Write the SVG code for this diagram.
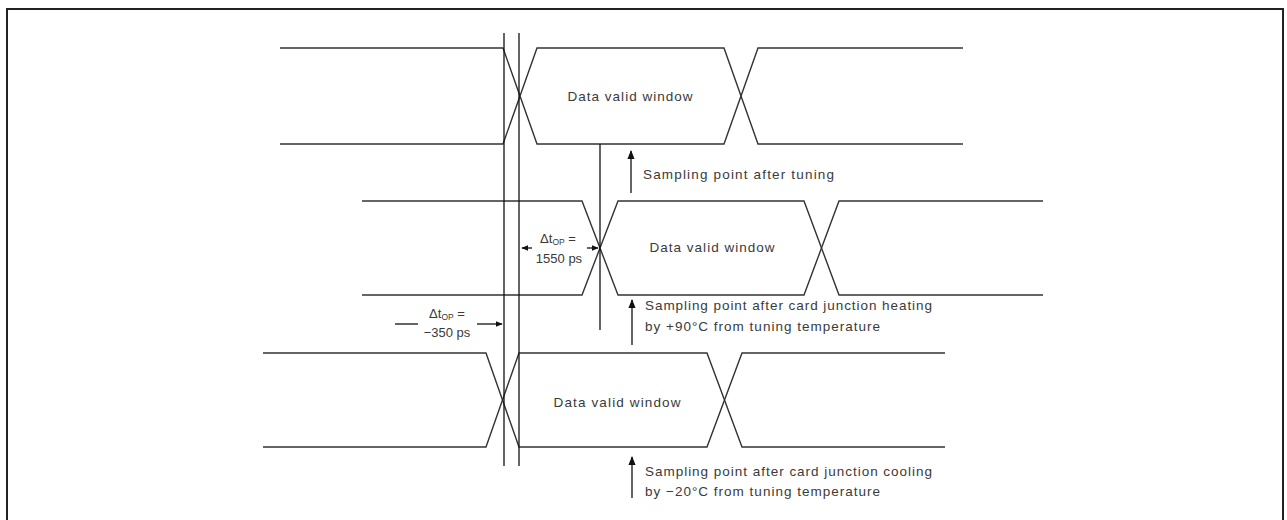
<svg xmlns="http://www.w3.org/2000/svg" width="1287" height="520" viewBox="0 0 1287 520">
<defs>
<marker id="ah" viewBox="0 0 10 10" refX="9" refY="5" markerWidth="7" markerHeight="7" markerUnits="userSpaceOnUse" orient="auto">
<path d="M0,1 L10,5 L0,9 Z" fill="#111"/>
</marker>
<marker id="ahb" viewBox="0 0 10 10" refX="9" refY="5" markerWidth="9" markerHeight="9" markerUnits="userSpaceOnUse" orient="auto">
<path d="M0,1 L10,5 L0,9 Z" fill="#111"/>
</marker>
</defs>
<style>
.sig{fill:none;stroke:#333;stroke-width:1.4}
.ln{fill:none;stroke:#111;stroke-width:1.3}
.t{font-family:"Liberation Sans",Arial,sans-serif;font-size:13.5px;fill:#3a3a3a}
.d{font-size:13px}
.s{font-size:8.5px}
</style>
<rect width="1287" height="520" fill="#fff"/>
<path d="M7,522 V9 H1283 V522" fill="none" stroke="#222" stroke-width="2"/>

<g id="signal-top">
<path class="sig" d="M280,48 H503 L537,144 H724 L758,48 H963"/>
<path class="sig" d="M280,144 H503 L537,48 H724 L758,144 H963"/>
<text class="t" x="630" y="101" text-anchor="middle" textLength="125" lengthAdjust="spacing">Data valid window</text>
</g>

<g id="signal-heating">
<path class="sig" d="M362,201 H582 L618,295 H804 L839,201 H1043"/>
<path class="sig" d="M362,295 H582 L618,201 H804 L839,295 H1043"/>
<text class="t" x="712" y="252" text-anchor="middle" textLength="125" lengthAdjust="spacing">Data valid window</text>
</g>

<g id="signal-cooling">
<path class="sig" d="M263,353 H486 L519,447 H707 L742,353 H945"/>
<path class="sig" d="M263,447 H486 L519,353 H707 L742,447 H945"/>
<text class="t" x="617" y="407" text-anchor="middle" textLength="127" lengthAdjust="spacing">Data valid window</text>
</g>

<g id="connectors">
<line class="ln" x1="504" y1="33" x2="504" y2="466"/>
<line class="ln" x1="519" y1="33" x2="519" y2="466"/>
<line class="ln" x1="600" y1="144" x2="600" y2="330"/>
<line class="ln" x1="631" y1="193" x2="631" y2="151" marker-end="url(#ahb)"/>
<line class="ln" x1="632" y1="345" x2="632" y2="300" marker-end="url(#ahb)"/>
<line class="ln" x1="632" y1="498" x2="632" y2="457" marker-end="url(#ahb)"/>
<line class="ln" x1="532" y1="248" x2="522" y2="248" marker-end="url(#ah)"/>
<line class="ln" x1="587" y1="248" x2="598" y2="248" marker-end="url(#ah)"/>
<line class="ln" x1="395" y1="324" x2="418" y2="324"/>
<line class="ln" x1="477" y1="324" x2="502" y2="324" marker-end="url(#ah)"/>
</g>

<g id="label-tuning">
<text class="t" x="643" y="179" textLength="191" lengthAdjust="spacing">Sampling point after tuning</text>
</g>
<g id="label-heating">
<text class="t" x="645" y="310" textLength="287" lengthAdjust="spacing">Sampling point after card junction heating</text>
<text class="t" x="645" y="331" textLength="235" lengthAdjust="spacing">by +90°C from tuning temperature</text>
</g>
<g id="label-cooling">
<text class="t" x="645" y="476" textLength="287" lengthAdjust="spacing">Sampling point after card junction cooling</text>
<text class="t" x="645" y="496" textLength="235" lengthAdjust="spacing">by −20°C from tuning temperature</text>
</g>
<g id="label-dt-1550">
<text class="t d" x="558" y="243" text-anchor="middle">Δt<tspan class="s" dy="2">OP</tspan><tspan dy="-2"> =</tspan></text>
<text class="t d" x="559" y="263" text-anchor="middle">1550 ps</text>
</g>
<g id="label-dt-350">
<text class="t d" x="447" y="318" text-anchor="middle">Δt<tspan class="s" dy="2">OP</tspan><tspan dy="-2"> =</tspan></text>
<text class="t d" x="447" y="337" text-anchor="middle">−350 ps</text>
</g>
</svg>
